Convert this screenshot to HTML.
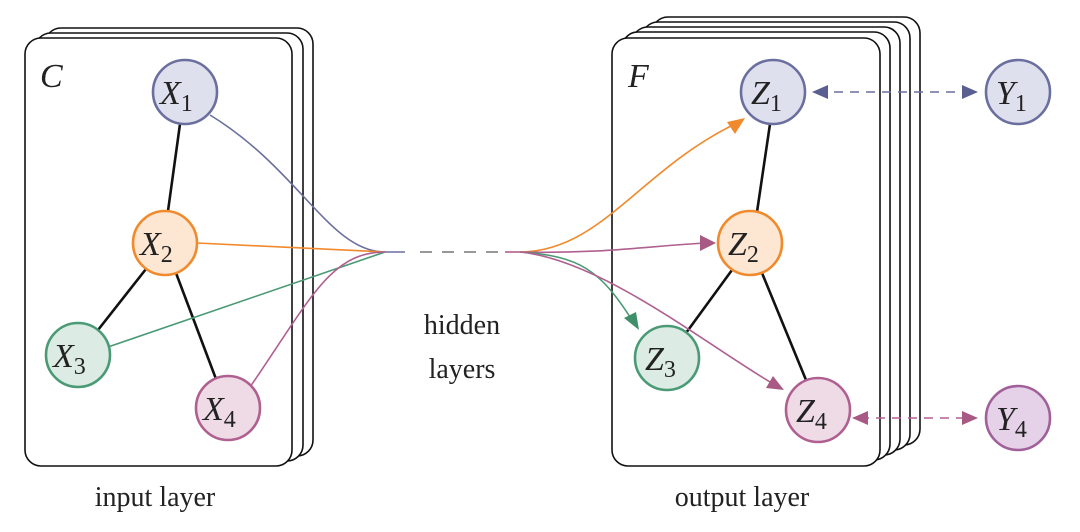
<!DOCTYPE html>
<html><head><meta charset="utf-8"><style>
html,body{margin:0;padding:0;background:#fff;}
svg{display:block;}
text{font-family:"Liberation Serif",serif;fill:#222;}
.m{font-style:italic;font-size:34px;}
.s{font-size:24px;font-style:normal;}
</style></head><body>
<svg width="1080" height="532" viewBox="0 0 1080 532" xmlns="http://www.w3.org/2000/svg">
<g fill="#fff" stroke="#111" stroke-width="1.6">
<rect x="45" y="28" width="268" height="428" rx="16"/>
<rect x="35" y="33" width="268" height="428" rx="16"/>
<rect x="25" y="38" width="267" height="428" rx="16"/>
<rect x="652" y="17" width="268" height="428" rx="16"/>
<rect x="642" y="22" width="268" height="428" rx="16"/>
<rect x="632" y="27" width="268" height="428" rx="16"/>
<rect x="622" y="32" width="268" height="428" rx="16"/>
<rect x="612" y="38" width="268" height="428" rx="16"/>
</g>
<g stroke="#111" stroke-width="2.6">
<line x1="180" y1="124" x2="168" y2="211"/>
<line x1="146" y1="269" x2="98" y2="330"/>
<line x1="176" y1="273" x2="216" y2="379"/>
<line x1="770" y1="124" x2="757" y2="212"/>
<line x1="732" y1="270" x2="686" y2="333"/>
<line x1="762" y1="273" x2="806" y2="380"/>
</g>
<g fill="none" stroke-width="1.6">
<path d="M210,115 C300,170 330,252 385,252" stroke="#6b6f9f"/>
<path d="M197,243 L385,252" stroke="#f08a2c"/>
<path d="M108,347 L385,252" stroke="#4a9a75"/>
<path d="M250,387 C310,300 330,252 385,252" stroke="#b06090"/>
<line x1="385" y1="252" x2="405" y2="252" stroke="#6b6f9f"/>
<line x1="420" y1="252" x2="505" y2="252" stroke="#777" stroke-dasharray="12,10"/>
<line x1="505" y1="252" x2="520" y2="252" stroke="#b06090"/>
<path d="M520,252 C600,252 640,170 735,124" stroke="#f08a2c"/>
<path d="M520,252 C600,254 650,246 705,243" stroke="#b06090"/>
<path d="M520,252 C580,256 600,270 632,320" stroke="#4a9a75"/>
<path d="M520,252 C600,260 700,340 770,382" stroke="#b06090"/>
<line x1="818" y1="92" x2="970" y2="92" stroke="#6b6f9f" stroke-dasharray="9,7"/>
<line x1="860" y1="418" x2="970" y2="418" stroke="#b06090" stroke-dasharray="9,7"/>
</g>
<g>
<path d="M745,118 L727,122 L735,134z" fill="#f08a2c"/>
<path d="M716,243 L700,235 L700,251z" fill="#a85a84"/>
<path d="M639,330 L624,318 L636,312z" fill="#3f8f6a"/>
<path d="M784,390 L766,388 L773,376z" fill="#a85a84"/>
<path d="M812,92 L828,85 L828,99z" fill="#5a5f92"/>
<path d="M978,92 L962,85 L962,99z" fill="#5a5f92"/>
<path d="M852,418 L868,411 L868,425z" fill="#a85a84"/>
<path d="M978,418 L962,411 L962,425z" fill="#a85a84"/>
</g>
<g stroke-width="2.6">
<circle cx="185" cy="92" r="32" fill="#dfe0ee" stroke="#6b6f9f"/>
<circle cx="165" cy="243" r="32" fill="#fde6d2" stroke="#f08a2c"/>
<circle cx="78" cy="355" r="32" fill="#dcebe3" stroke="#4a9a75"/>
<circle cx="228" cy="408" r="32" fill="#eedbe6" stroke="#b06090"/>
<circle cx="773" cy="92" r="32" fill="#dfe0ee" stroke="#6b6f9f"/>
<circle cx="750" cy="243" r="32" fill="#fde6d2" stroke="#f08a2c"/>
<circle cx="667" cy="358" r="32" fill="#dcebe3" stroke="#4a9a75"/>
<circle cx="818" cy="410" r="32" fill="#eedbe6" stroke="#b06090"/>
<circle cx="1018" cy="92" r="32" fill="#dfe0ee" stroke="#6b6f9f"/>
<circle cx="1018" cy="418" r="32" fill="#e6d2e8" stroke="#a0609a"/>
</g>
<text class="m" x="40" y="87">C</text>
<text class="m" x="628" y="87">F</text>
<text class="m" x="160" y="104">X<tspan class="s" dy="7">1</tspan></text>
<text class="m" x="140" y="255">X<tspan class="s" dy="7">2</tspan></text>
<text class="m" x="53" y="367">X<tspan class="s" dy="7">3</tspan></text>
<text class="m" x="203" y="420">X<tspan class="s" dy="7">4</tspan></text>
<text class="m" x="751" y="104">Z<tspan class="s" dy="7">1</tspan></text>
<text class="m" x="728" y="255">Z<tspan class="s" dy="7">2</tspan></text>
<text class="m" x="645" y="370">Z<tspan class="s" dy="7">3</tspan></text>
<text class="m" x="796" y="422">Z<tspan class="s" dy="7">4</tspan></text>
<text class="m" x="996" y="104">Y<tspan class="s" dy="7">1</tspan></text>
<text class="m" x="996" y="430">Y<tspan class="s" dy="7">4</tspan></text>
<text x="462" y="334" font-size="28" text-anchor="middle">hidden</text>
<text x="462" y="378" font-size="28" text-anchor="middle">layers</text>
<text x="155" y="506" font-size="28" text-anchor="middle">input layer</text>
<text x="742" y="506" font-size="28" text-anchor="middle">output layer</text>
</svg>
</body></html>
